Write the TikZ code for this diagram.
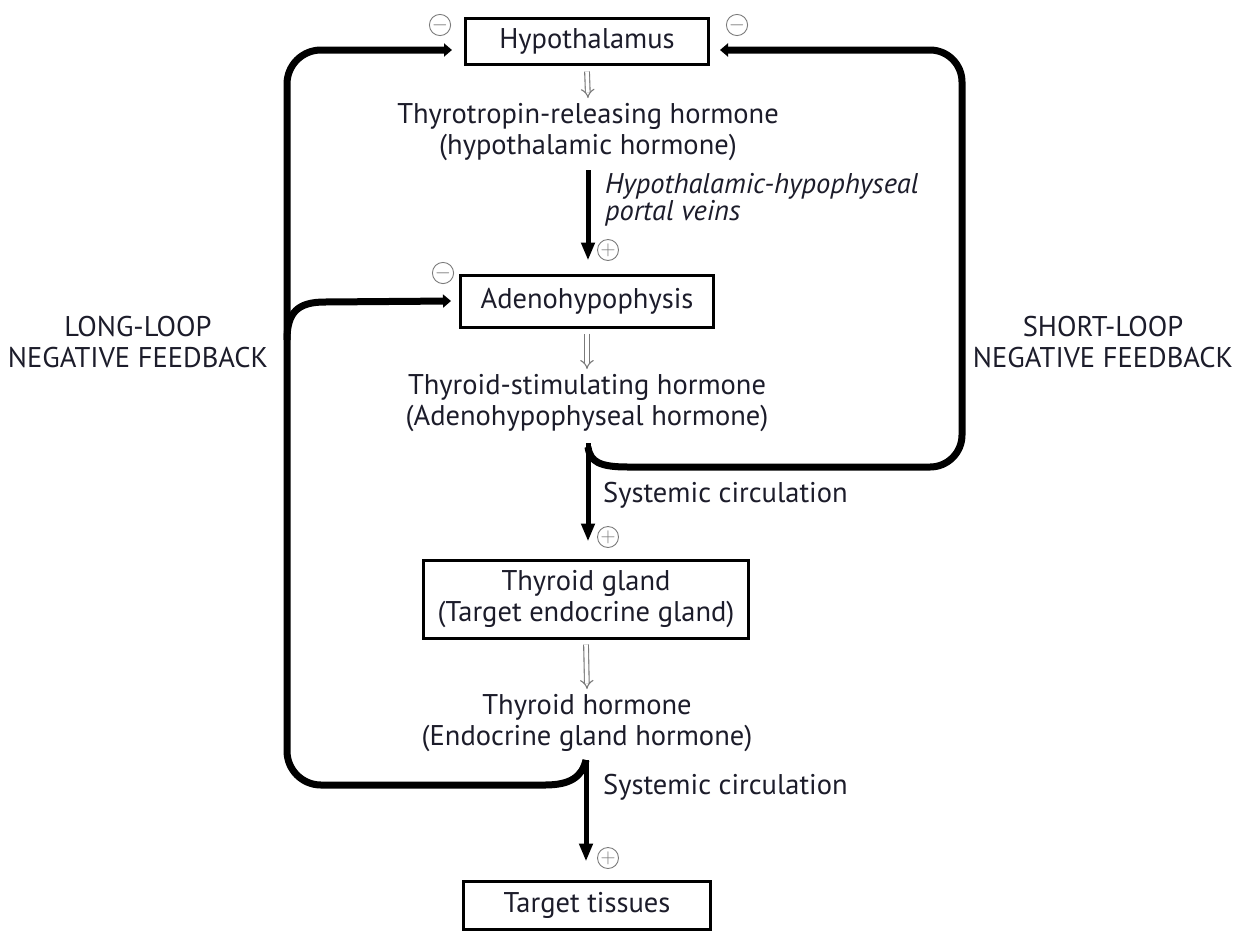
\documentclass[tikz,border=0pt]{standalone}
\usepackage{fontspec}
\setmainfont{PT Sans}
\usetikzlibrary{arrows.meta}
\definecolor{ink}{HTML}{1C1C2A}
\definecolor{signgray}{HTML}{7A7A7A}
\begin{document}
\begin{tikzpicture}[x=1pt,y=-1pt,
  every node/.style={text=ink, font=\fontsize{28.5}{31}\selectfont},
  organ/.style={draw=black, line width=3pt, inner sep=0pt, align=center},
  hormone/.style={align=center, inner sep=0pt},
  hollow/.style={draw=signgray, line width=1.1pt, double=white, double distance=3.6pt,
    -{Implies[length=7pt, width=15pt]}},
  mainarrow/.style={draw=black, line width=5pt, -{Triangle[length=18pt,width=13pt]}},
  feedback/.style={draw=black, line width=7pt, -{Triangle[length=8pt,width=13pt]}},
  sign/.style={circle, draw=signgray, line width=0.9pt, minimum size=21pt, inner sep=0pt, text=signgray, font=\fontsize{21}{21}\selectfont}
]
\useasboundingbox (0,0) rectangle (1246,932);

% organs
\node[organ, minimum width=243pt, minimum height=46pt] (hyp) at (587,41) {Hypothalamus};
\node[organ, minimum width=253pt, minimum height=52pt] (adeno) at (587,301) {Adenohypophysis};
\node[organ, minimum width=325pt, minimum height=78pt] (thy) at (586,599) {Thyroid gland\\(Target endocrine gland)};
\node[organ, minimum width=247pt, minimum height=48pt] (tgt) at (587,905) {Target tissues};

% hormones
\node[hormone] (trh) at (588,132) {Thyrotropin-releasing hormone\\(hypothalamic hormone)};
\node[hormone] (tsh) at (587,403) {Thyroid-stimulating hormone\\(Adenohypophyseal hormone)};
\node[hormone] (th) at (587,723) {Thyroid hormone\\(Endocrine gland hormone)};

% routes
\node[hormone, anchor=west, align=left, font=\fontsize{28.5}{26}\itshape] (portal) at (605,200) {Hypothalamic-hypophyseal\\portal veins};
\node[hormone, anchor=west] (sc1) at (603,495) {Systemic circulation};
\node[hormone, anchor=west] (sc2) at (603,787) {Systemic circulation};

% loop labels
\node[hormone] (longloop) at (138,342) {LONG-LOOP\\NEGATIVE FEEDBACK};
\node[hormone] (shortloop) at (1103,342) {SHORT-LOOP\\NEGATIVE FEEDBACK};

% signs
\node[sign] (m1) at (440,25) {$-$};
\node[sign] (m2) at (737,25) {$-$};
\node[sign] (m3) at (443,273) {$-$};
\node[sign] (p1) at (608,250) {$+$};
\node[sign] (p2) at (608,537) {$+$};
\node[sign] (p3) at (608,858) {$+$};

% secretion steps
\draw[hollow] ([yshift=-6pt]hyp.south) -- ([yshift=5pt]trh.north);
\draw[hollow] ([yshift=-5pt]adeno.south) -- ([yshift=5pt]tsh.north);
\draw[hollow] ([yshift=-5pt]thy.south) -- ([yshift=5pt]th.north);

% transport to the next gland
\coordinate (j1) at (588,170);
\coordinate (j2) at (588,443);
\coordinate (j3) at (586,760);
\draw[mainarrow, shorten >=13pt] (j1) -- (j1 |- adeno.north);
\draw[mainarrow, shorten >=17pt] (j2) -- (j2 |- thy.north);
\draw[mainarrow, shorten >=18pt] (j3) -- (j3 |- tgt.north);

% feedback targets
\coordinate (hypL) at ([xshift=-12pt,yshift=-9pt]hyp.west);
\coordinate (hypR) at ([xshift=10pt,yshift=-9pt]hyp.east);
\coordinate (adL) at ([xshift=-8pt]adeno.west);

% short loop
\draw[feedback] ([yshift=-4pt]j2) .. controls (590,462) and (600,467) .. (628,467)
  [rounded corners=32pt] -- (962,467) -- (962,50) -- (hypR);

% long loop
\draw[feedback] (j3) .. controls (582,777) and (570,785) .. (545,785)
  [rounded corners=34pt] -- (287,785) -- (287,50) -- (hypL);
\draw[feedback] (287,340) .. controls (287,312) and (298,302) .. (325,302) -- (adL);
\end{tikzpicture}
\end{document}
